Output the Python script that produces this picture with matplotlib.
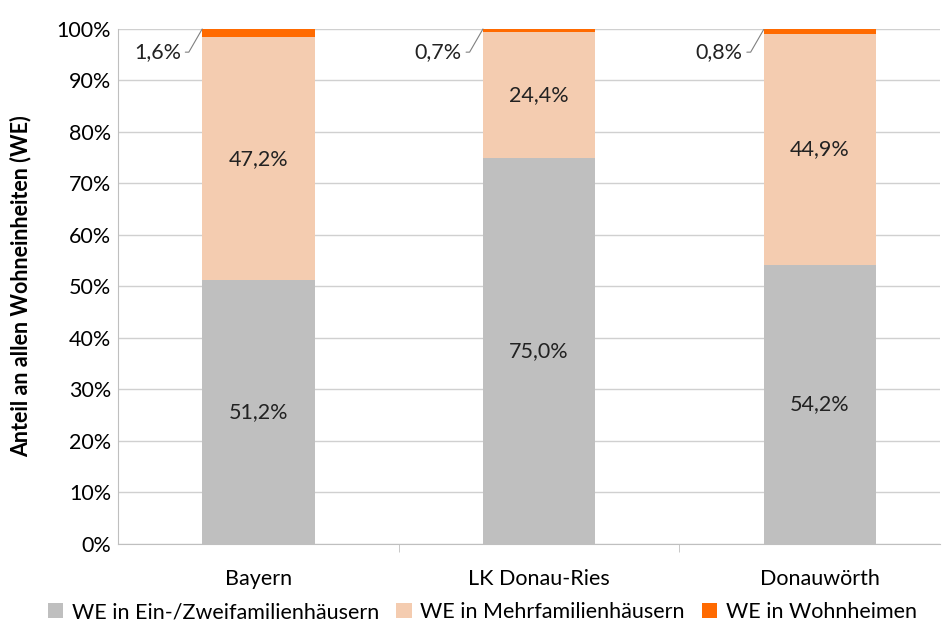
import matplotlib.pyplot as plt
from matplotlib.ticker import FuncFormatter

plt.rcParams['font.family'] = ['Lato', 'DejaVu Sans']

regions = ['Bayern', 'LK Donau-Ries', 'Donauwörth']
ein_zwei = [51.2, 75.0, 54.2]
mehr = [47.2, 24.4, 44.9]
heime = [1.6, 0.7, 0.8]
series_names = ['WE in Ein-/Zweifamilienhäusern', 'WE in Mehrfamilienhäusern', 'WE in Wohnheimen']
colors = ['#BFBFBF', '#F4CCB0', '#FF6A00']

FS = 15.5

fig = plt.figure(figsize=(9.46, 6.26), dpi=100)
ax = fig.add_axes([0.1247, 0.131, 0.869, 0.8227])

x = list(range(len(regions)))
w = 0.4
bottom2 = ein_zwei
bottom3 = [a + b for a, b in zip(ein_zwei, mehr)]
ax.bar(x, ein_zwei, w, color=colors[0], label=series_names[0], zorder=2)
ax.bar(x, mehr, w, bottom=bottom2, color=colors[1], label=series_names[1], zorder=2)
ax.bar(x, heime, w, bottom=bottom3, color=colors[2], label=series_names[2], zorder=2)

def fmt(v):
    return f'{v:.1f}%'.replace('.', ',')

for i in x:
    ax.text(i, ein_zwei[i] / 2, fmt(ein_zwei[i]), ha='center', va='center', fontsize=FS, color='#222222', zorder=3)
    ax.text(i, ein_zwei[i] + mehr[i] / 2, fmt(mehr[i]), ha='center', va='center', fontsize=FS, color='#222222', zorder=3)
    top = min(bottom3[i] + heime[i], 100)
    ax.annotate(fmt(heime[i]), xy=(i - w / 2, top), xytext=(i - w / 2 - 0.075, 95.5),
                ha='right', va='center', fontsize=FS, color='#222222',
                arrowprops=dict(arrowstyle='-', color='#808080', lw=0.8,
                                connectionstyle='angle,angleA=0,angleB=60,rad=0',
                                shrinkA=1, shrinkB=0), zorder=4)

ax.set_ylim(0, 100)
ax.set_xlim(-0.5, 2.428)
ax.yaxis.set_major_locator(plt.MultipleLocator(10))
ax.yaxis.set_major_formatter(FuncFormatter(lambda v, p: f'{v:.0f}%'))
ax.set_xticks(x)
ax.set_xticklabels(regions, fontsize=FS)
ax.set_xticks([0.5, 1.5], minor=True)
ax.tick_params(axis='x', which='major', length=0, pad=18)
ax.tick_params(axis='x', which='minor', length=6, color='#BFBFBF')
ax.tick_params(axis='y', length=0, labelsize=FS, pad=5)
ax.grid(axis='y', color='#D0D0D0', lw=1, zorder=0)
for s in ['top', 'right']:
    ax.spines[s].set_visible(False)
ax.spines['left'].set_color('#BFBFBF')
ax.spines['bottom'].set_color('#BFBFBF')
ax.set_ylabel('Anteil an allen Wohneinheiten (WE)', fontsize=FS, fontweight='bold', labelpad=18)

fig.legend(loc='lower center', bbox_to_anchor=(0.51, -0.025), ncol=3, frameon=False,
           fontsize=FS, handlelength=0.7, handleheight=0.7, handletextpad=0.4, columnspacing=0.8)

fig.savefig('out.png', dpi=100)
